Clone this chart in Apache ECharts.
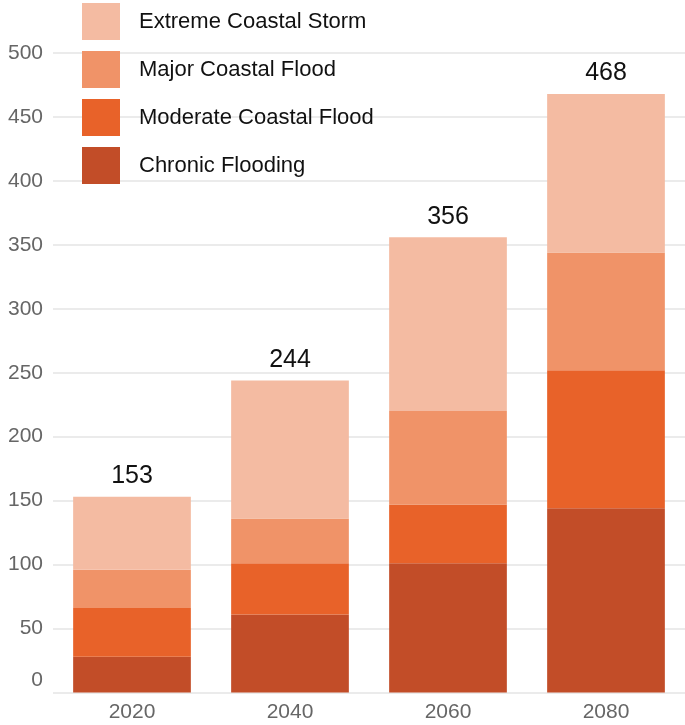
<!DOCTYPE html>
<html>
<head>
<meta charset="utf-8">
<script src="https://cdn.jsdelivr.net/npm/echarts@6/dist/echarts.min.js"></script>
<style>
  html, body { margin: 0; padding: 0; background: #ffffff; }
  #chart { width: 685px; height: 725px; }
</style>
</head>
<body>
<div id="chart"></div>
<script>
// Flood-type counts per projection year (stacked bottom to top)
const years = ['2020', '2040', '2060', '2080'];
const chronicFlooding = [28, 61, 101, 144];
const moderateCoastalFlood = [38, 40, 46, 108];
const majorCoastalFlood = [30, 35, 73, 92];
const extremeCoastalStorm = [57, 108, 136, 124];

const yTicks = { min: 0, max: 500, interval: 50 };

const colors = {
  chronic: '#C24D28',
  moderate: '#E86229',
  major: '#F09368',
  extreme: '#F4BBA2'
};

const totals = years.map((_, i) =>
  chronicFlooding[i] + moderateCoastalFlood[i] + majorCoastalFlood[i] + extremeCoastalStorm[i]);

const font = 'Liberation Sans, Arial, sans-serif';

function barSeries(name, data, color, extra) {
  return Object.assign({
    name: name,
    type: 'bar',
    stack: 'total',
    data: data,
    barWidth: '74.5%',
    itemStyle: { color: color },
    emphasis: { disabled: true }
  }, extra || {});
}

const chart = echarts.init(document.getElementById('chart'));
chart.setOption({
  animation: false,
  backgroundColor: '#ffffff',
  grid: { left: 53, right: -3, top: 53, bottom: 32.5 },
  legend: {
    orient: 'vertical',
    left: 82,
    top: 3,
    padding: 0,
    itemWidth: 38,
    itemHeight: 37,
    itemGap: 11,
    icon: 'rect',
    data: ['Extreme Coastal Storm', 'Major Coastal Flood', 'Moderate Coastal Flood', 'Chronic Flooding'],
    textStyle: { fontFamily: font, fontSize: 22, color: '#111111', padding: [0, 0, 0, 14] }
  },
  xAxis: {
    type: 'category',
    data: years,
    axisLine: { show: false },
    axisTick: { show: false },
    axisLabel: { fontFamily: font, fontSize: 21, color: '#666666', margin: 9 }
  },
  yAxis: {
    type: 'value',
    min: yTicks.min,
    max: yTicks.max,
    interval: yTicks.interval,
    axisLine: { show: false },
    axisTick: { show: false },
    splitLine: { lineStyle: { color: '#ebebeb', width: 2 } },
    axisLabel: {
      fontFamily: font,
      fontSize: 21,
      color: '#666666',
      margin: 10,
      formatter: v => (v === 0 ? '{z|0}' : String(v)),
      rich: {
        z: { fontFamily: font, fontSize: 21, color: '#666666', padding: [0, 0, 24, 0] }
      }
    }
  },
  series: [
    barSeries('Chronic Flooding', chronicFlooding, colors.chronic),
    barSeries('Moderate Coastal Flood', moderateCoastalFlood, colors.moderate),
    barSeries('Major Coastal Flood', majorCoastalFlood, colors.major),
    barSeries('Extreme Coastal Storm', extremeCoastalStorm, colors.extreme, {
      label: {
        show: true,
        position: 'top',
        distance: 8,
        fontFamily: font,
        fontSize: 25,
        color: '#111111',
        formatter: p => String(totals[p.dataIndex])
      }
    })
  ]
});
</script>
</body>
</html>
